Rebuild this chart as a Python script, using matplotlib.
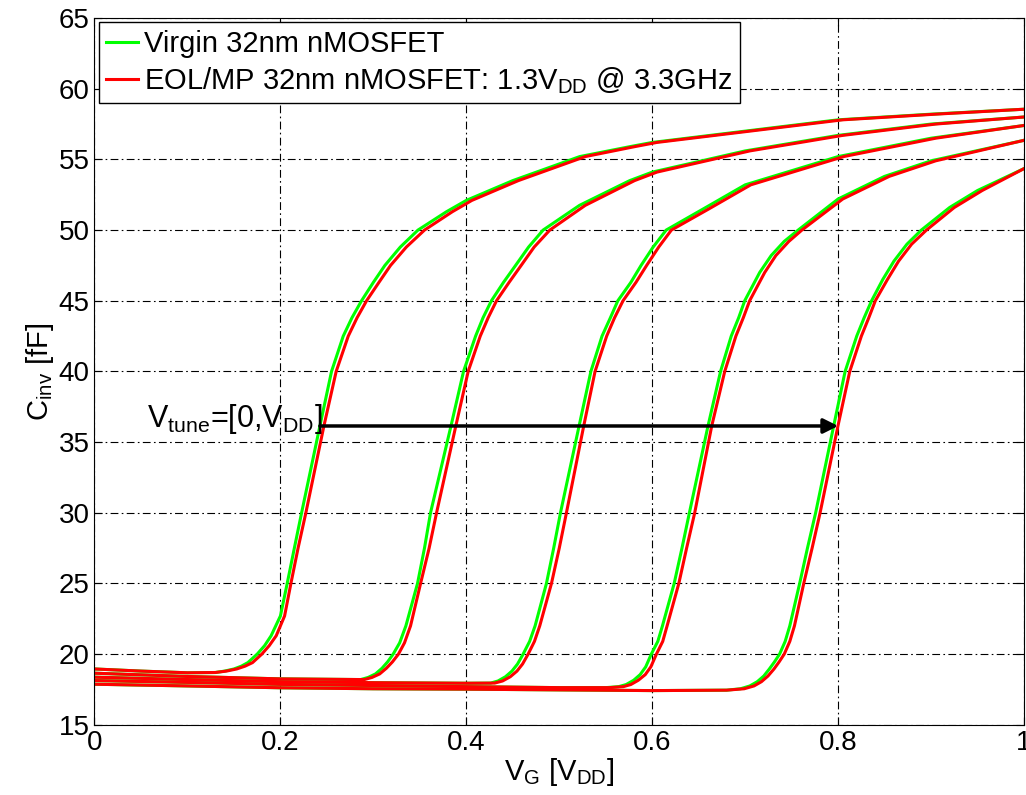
import matplotlib
matplotlib.use('Agg')
from matplotlib import pyplot as plt

plt.rcParams['font.family'] = ['Liberation Sans', 'DejaVu Sans']
plt.rcParams['mathtext.fontset'] = 'custom'
plt.rcParams['mathtext.rm'] = 'Liberation Sans'
plt.rcParams['mathtext.it'] = 'Liberation Sans'

# C_inv [fF] levels and V_G [V_DD] positions, virgin (green) and EOL/MP (red)
c1_cap = [18.95, 18.8, 18.68, 18.7, 18.8, 18.95, 19.15, 19.4, 20.0, 20.6, 21.3, 22.7, 25.0, 27.5, 30.0, 36.14, 40.0, 42.5, 43.8, 45.0, 46.3, 47.5, 48.8, 50.0, 51.3, 52.1, 53.5, 54.35, 55.2, 55.9, 56.2, 57.0, 57.8, 58.2, 58.55]
c1_virgin = [0.0, 0.05, 0.10, 0.13, 0.14, 0.15, 0.158, 0.165, 0.175, 0.183, 0.19, 0.20, 0.2073, 0.215, 0.2228, 0.2425, 0.255, 0.2676, 0.277, 0.2873, 0.300, 0.3124, 0.329, 0.348, 0.3787, 0.40, 0.45, 0.486, 0.522, 0.5758, 0.60, 0.70, 0.80, 0.90, 1.0]
c1_eol = [0.0, 0.05, 0.10, 0.13, 0.142, 0.153, 0.162, 0.170, 0.180, 0.188, 0.1955, 0.2045, 0.2113, 0.219, 0.2274, 0.2468, 0.260, 0.273, 0.2825, 0.2927, 0.306, 0.3185, 0.3355, 0.355, 0.385, 0.406, 0.456, 0.492, 0.528, 0.581, 0.605, 0.705, 0.805, 0.905, 1.0]

c2_cap = [18.65, 18.42, 18.25, 18.2, 18.35, 18.6, 19.0, 19.45, 20.0, 20.8, 22.0, 25.0, 27.5, 30.0, 36.14, 40.0, 42.5, 43.8, 45.0, 46.3, 47.5, 48.8, 50.0, 51.75, 53.5, 54.1, 55.6, 56.7, 57.5, 58.0]
c2_virgin = [0.0, 0.10, 0.20, 0.2863, 0.2943, 0.3023, 0.3093, 0.3153, 0.3213, 0.3283, 0.335, 0.3475, 0.355, 0.3615, 0.3835, 0.397, 0.410, 0.418, 0.427, 0.440, 0.453, 0.467, 0.4826, 0.5218, 0.5758, 0.60, 0.70, 0.80, 0.90, 1.0]
c2_eol = [0.0, 0.10, 0.20, 0.2903, 0.2985, 0.3068, 0.314, 0.3205, 0.327, 0.3335, 0.340, 0.3508, 0.360, 0.368, 0.3887, 0.402, 0.415, 0.4235, 0.4325, 0.446, 0.459, 0.473, 0.4898, 0.528, 0.581, 0.605, 0.705, 0.805, 0.905, 1.0]

c3_cap = [18.37, 18.2, 18.05, 17.98, 17.94, 17.95, 18.1, 18.4, 18.8, 19.3, 20.0, 20.9, 22.0, 25.0, 27.5, 30.0, 36.14, 40.0, 42.5, 43.8, 45.0, 46.3, 47.5, 48.8, 50.0, 51.5, 53.2, 55.2, 56.5, 57.4]
c3_virgin = [0.0, 0.10, 0.20, 0.30, 0.40, 0.4261, 0.4341, 0.4421, 0.4491, 0.4551, 0.4611, 0.4681, 0.474, 0.4862, 0.494, 0.5013, 0.5213, 0.534, 0.546, 0.555, 0.563, 0.577, 0.588, 0.601, 0.615, 0.655, 0.70, 0.80, 0.90, 1.0]
c3_eol = [0.0, 0.10, 0.20, 0.30, 0.40, 0.4305, 0.439, 0.4473, 0.4545, 0.4605, 0.4665, 0.4733, 0.479, 0.4916, 0.500, 0.5077, 0.5263, 0.5385, 0.551, 0.5595, 0.5686, 0.5825, 0.594, 0.607, 0.6206, 0.661, 0.706, 0.806, 0.905, 1.0]

c4_cap = [18.13, 18.0, 17.86, 17.78, 17.7, 17.63, 17.63, 17.7, 17.85, 18.15, 18.55, 19.1, 20.0, 20.9, 22.0, 25.0, 27.5, 30.0, 36.14, 40.0, 42.5, 43.8, 45.0, 47.0, 48.2, 49.2, 50.0, 52.2, 53.8, 54.9, 56.35]
c4_virgin = [0.0, 0.10, 0.20, 0.30, 0.40, 0.50, 0.55, 0.564, 0.572, 0.58, 0.587, 0.593, 0.599, 0.606, 0.611, 0.6236, 0.632, 0.640, 0.660, 0.6735, 0.685, 0.693, 0.6995, 0.7156, 0.728, 0.742, 0.757, 0.80, 0.85, 0.90, 1.0]
c4_eol = [0.0, 0.10, 0.20, 0.30, 0.40, 0.50, 0.554, 0.569, 0.577, 0.585, 0.5925, 0.5985, 0.6045, 0.6113, 0.616, 0.6286, 0.637, 0.6457, 0.664, 0.678, 0.690, 0.698, 0.7048, 0.721, 0.733, 0.747, 0.761, 0.805, 0.855, 0.905, 1.0]

c5_cap = [17.87, 17.75, 17.62, 17.55, 17.52, 17.47, 17.42, 17.45, 17.55, 17.75, 18.05, 18.45, 18.95, 19.45, 20.0, 20.9, 22.0, 25.0, 27.5, 30.0, 36.14, 40.0, 42.5, 43.8, 45.0, 46.5, 47.8, 49.0, 50.0, 51.6, 52.8, 54.35]
c5_virgin = [0.0, 0.10, 0.20, 0.30, 0.40, 0.50, 0.60, 0.68, 0.695, 0.705, 0.713, 0.72, 0.726, 0.7315, 0.737, 0.743, 0.748, 0.7586, 0.767, 0.7758, 0.7952, 0.8075, 0.820, 0.828, 0.836, 0.848, 0.86, 0.874, 0.8895, 0.92, 0.95, 1.0]
c5_eol = [0.0, 0.10, 0.20, 0.30, 0.40, 0.50, 0.60, 0.68, 0.699, 0.7095, 0.7175, 0.7245, 0.731, 0.7365, 0.742, 0.748, 0.753, 0.763, 0.772, 0.7806, 0.7998, 0.8125, 0.825, 0.833, 0.840, 0.853, 0.865, 0.879, 0.895, 0.925, 0.955, 1.0]

caps = [c1_cap, c2_cap, c3_cap, c4_cap, c5_cap]
virgin = [c1_virgin, c2_virgin, c3_virgin, c4_virgin, c5_virgin]
eol = [c1_eol, c2_eol, c3_eol, c4_eol, c5_eol]

arrow_y = 36.14
arrow_x0, arrow_x1 = 0.2425, 0.80

fig = plt.figure(figsize=(10.26, 7.95), dpi=100)
ax = fig.add_axes([0.0921, 0.0883, 0.906, 0.889])

for i in range(5):
    ax.plot(virgin[i], caps[i], color='#00ff00', lw=2.2,
            label='Virgin 32nm nMOSFET' if i == 0 else None)
for i in range(5):
    ax.plot(eol[i], caps[i], color='#ff0000', lw=2.2,
            label=r'EOL/MP 32nm nMOSFET: 1.3V$_{\mathrm{DD}}$ @ 3.3GHz' if i == 0 else None)

ax.annotate('', xy=(arrow_x1, arrow_y), xytext=(arrow_x0, arrow_y),
            arrowprops=dict(arrowstyle='-|>', color='black', lw=2.5, mutation_scale=22,
                            shrinkA=0, shrinkB=0))
ax.text(arrow_x0 + 0.003, arrow_y - 0.1, r'V$_{\mathrm{tune}}$=[0,V$_{\mathrm{DD}}$]',
        ha='right', va='baseline', fontsize=22)

ax.set_xlim(0, 1)
ax.set_ylim(15, 65)
ax.set_xticks([0, 0.2, 0.4, 0.6, 0.8, 1])
ax.set_xticklabels(['0', '0.2', '0.4', '0.6', '0.8', '1'])
ax.set_yticks(range(15, 70, 5))
ax.tick_params(direction='in', labelsize=20, length=6, top=True, right=True)
ax.grid(True, color='black', lw=0.8, linestyle=(0, (7, 3, 1.5, 3)))

ax.set_xlabel(r'V$_{\mathrm{G}}$ [V$_{\mathrm{DD}}$]', fontsize=21, labelpad=0)
ax.set_ylabel(r'C$_{\mathrm{inv}}$ [fF]', fontsize=21, labelpad=2)

leg = ax.legend(loc='upper left', fontsize=21, handlelength=1.1, handletextpad=0.2,
                borderaxespad=0.15, fancybox=False, framealpha=1, edgecolor='black',
                labelspacing=0.25, borderpad=0.25)
leg.get_frame().set_linewidth(1.0)

plt.savefig('out.png')
